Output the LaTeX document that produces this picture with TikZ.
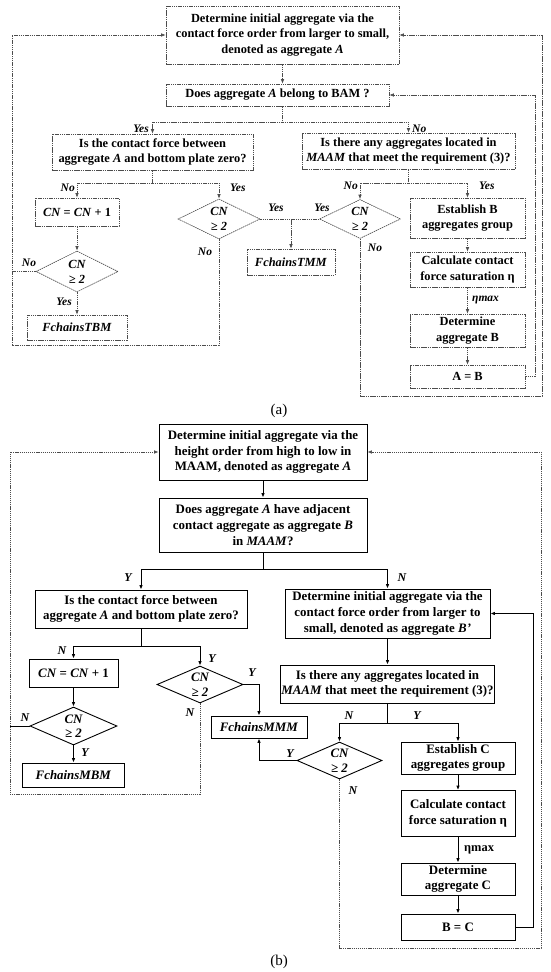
\documentclass[tikz,border=0pt]{standalone}
\usepackage{fontspec}
\setmainfont{Liberation Serif}
\usetikzlibrary{arrows.meta,shapes.geometric}
\tikzset{
  fa/.style={font=\fontsize{12.4}{15.2}\selectfont\bfseries},
  fb/.style={font=\fontsize{12.9}{15.7}\selectfont\bfseries},
  la/.style={draw=black!70, dash pattern=on 1.5pt off 0.7pt, line width=0.65pt},
  lb/.style={draw=black, line width=0.9pt},
  lbd/.style={draw=black!70, dash pattern=on 1.2pt off 0.9pt, line width=0.7pt},
  boxa/.style={la, fa, rectangle, align=center, inner sep=1pt},
  boxb/.style={lb, fb, rectangle, align=center, inner sep=1pt},
  diaa/.style={la, font=\fontsize{12.4}{15}\selectfont\bfseries\itshape, diamond, aspect=2, inner sep=0pt, align=center},
  diab/.style={lb, font=\fontsize{12.9}{14.5}\selectfont\bfseries\itshape, diamond, aspect=2, inner sep=0pt, align=center},
  arr/.style={-{Latex[length=4.5pt,width=3.6pt]}},
  laba/.style={font=\fontsize{11.5}{13}\selectfont\bfseries\itshape, inner sep=0pt},
  labb/.style={font=\fontsize{12}{13}\selectfont\bfseries\itshape, inner sep=0pt},
  capt/.style={font=\fontsize{15}{18}\selectfont, inner sep=0pt},
}
\begin{document}
\begin{tikzpicture}[x=1pt,y=-1pt]
\useasboundingbox (0,0) rectangle (550,972);

% ================= (a) =================
\node[boxa, minimum width=233pt, minimum height=58pt] (a1) at (282.5,35)
  {Determine initial aggregate via the\\contact force order from larger to small,\\denoted as aggregate \textit{A}};
\node[boxa, minimum width=223pt, minimum height=22pt] (a2) at (277.5,95)
  {Does aggregate \textit{A} belong to BAM ?};
\node[boxa, minimum width=201pt, minimum height=36pt] (a3) at (152.5,152)
  {Is the contact force between\\aggregate \textit{A} and bottom plate zero?};
\node[boxa, minimum width=213pt, minimum height=36pt] (a4) at (408.5,151)
  {Is there any aggregates located in\\\textit{MAAM} that meet the requirement (3)?};
\node[boxa, minimum width=84pt, minimum height=28pt] (a5) at (77,212)
  {\textit{CN} = \textit{CN} + 1};
\node[diaa, minimum width=82pt, minimum height=40pt] (d1) at (219,219) {CN\\≥ 2};
\node[diaa, minimum width=82pt, minimum height=41pt] (d2) at (77,271.5) {CN\\≥ 2};
\node[diaa, minimum width=81pt, minimum height=39pt] (d3) at (360,219) {CN\\≥ 2};
\node[boxa, minimum width=100pt, minimum height=25pt] (ftbm) at (77,327.5) {\textit{FchainsTBM}};
\node[boxa, minimum width=88pt, minimum height=26pt] (ftmm) at (291,262) {\textit{FchainsTMM}};
\node[boxa, minimum width=115pt, minimum height=40pt] (b1) at (467.5,218) {Establish B\\aggregates group};
\node[boxa, minimum width=115pt, minimum height=35pt] (b2) at (467.5,269.5) {Calculate contact\\force saturation η};
\node[boxa, minimum width=115pt, minimum height=33pt] (b3) at (467.5,330.5) {Determine\\aggregate B};
\node[boxa, minimum width=115pt, minimum height=23pt] (ab) at (467.5,376.5) {A = B};

\draw[la,arr] (a1.south) -- (a1.south |- a2.north);
\coordinate (ja) at (a1.south |- 0,122);
\draw[la] (a1.south |- a2.south) -- (ja);
\draw[la,arr] (ja) -| (a3.north);
\draw[la,arr] (ja) -| (a4.north);

\coordinate (jb) at (a3.south |- 0,183);
\draw[la] (a3.south) -- (jb);
\draw[la,arr] (jb) -| (a5.north);
\draw[la,arr] (jb) -| (d1.north);

\coordinate (jc) at (a4.south |- 0,183);
\draw[la] (a4.south) -- (jc);
\draw[la,arr] (jc) -| (d3.north);
\draw[la,arr] (jc) -| (b1.north);

\draw[la,arr] (a5.south) -- (d2.north);
\draw[la,arr] (d2.south) -- (ftbm.north);
\draw[la] (d1.east) -- (d3.west);
\coordinate (jd) at (ftmm.north |- d1.east);
\draw[la,arr] (jd) -- (ftmm.north);
\draw[la,arr] (b1.south) -- (b2.north);
\draw[la,arr] (b2.south) -- (b3.north);
\draw[la,arr] (b3.south) -- (ab.north);

\coordinate (la1) at (12,345);
\draw[la,arr] (d1.south) |- (la1) |- (a1.west);
\draw[la] (d2.west) -- (d2.west -| la1);
\coordinate (ra1) at (542,396);
\draw[la,arr] (d3.south) |- (ra1) |- (a1.east);
\coordinate (ra2) at (535,0);
\draw[la,arr] (ab.east) -- (ab.east -| ra2) |- (a2.east);

\node[laba, anchor=east] (ya) at (149,129) {Yes};
\node[laba, anchor=west] (na) at (412,129) {No};
\node[laba, anchor=east] (n1) at (75,188) {No};
\node[laba, anchor=west] (y1) at (230,188) {Yes};
\node[laba, anchor=east] (n2) at (358,186) {No};
\node[laba, anchor=west] (y2) at (479,186) {Yes};
\node[laba] (n3) at (29,263) {No};
\node[laba, anchor=east] (y3) at (72,302) {Yes};
\node[laba] (n4) at (205,252) {No};
\node[laba] (y4) at (276,208) {Yes};
\node[laba] (y5) at (322,208) {Yes};
\node[laba] (n5) at (375,248) {No};
\node[laba, anchor=west] (eta1) at (472,300) {ηmax};

\node[capt] (capa) at (279,411) {(a)};

% ================= (b) =================
\node[boxb, minimum width=208pt, minimum height=56pt] (ba1) at (263,452)
  {Determine initial aggregate via the\\height order from high to low in\\MAAM, denoted as aggregate \textit{A}};
\node[boxb, minimum width=208pt, minimum height=54pt] (ba2) at (263,525)
  {Does aggregate \textit{A} have adjacent\\contact aggregate as aggregate \textit{B}\\in \textit{MAAM}?};
\node[boxb, minimum width=212pt, minimum height=38pt] (bl1) at (141,609)
  {Is the contact force between\\aggregate \textit{A} and bottom plate zero?};
\node[boxb, minimum width=89pt, minimum height=28pt] (cnb) at (73.5,673)
  {\textit{CN} = \textit{CN} + 1};
\node[diab, minimum width=86pt, minimum height=37pt] (e1) at (200,684.5) {CN\\≥ 2};
\node[diab, minimum width=87pt, minimum height=38pt] (e2) at (73.5,726) {CN\\≥ 2};
\node[diab, minimum width=85pt, minimum height=37pt] (e3) at (339.5,760.5) {CN\\≥ 2};
\node[boxb, minimum width=102pt, minimum height=24pt] (fmbm) at (73.5,775) {\textit{FchainsMBM}};
\node[boxb, minimum width=96pt, minimum height=22pt] (fmmm) at (259,727) {\textit{FchainsMMM}};
\node[boxb, minimum width=205pt, minimum height=49pt] (br1) at (387.5,613.5)
  {Determine initial aggregate via the\\contact force order from larger to\\small, denoted as aggregate \textit{B’}};
\node[boxb, minimum width=204pt, minimum height=38pt] (br2) at (387.5,684)
  {Is there any aggregates located in\\\textit{MAAM} that meet the requirement (3)?};
\node[boxb, minimum width=114pt, minimum height=32pt] (c1) at (458,758) {Establish C\\aggregates group};
\node[boxb, minimum width=114pt, minimum height=46pt] (c2) at (458,813.5) {Calculate contact\\force saturation η};
\node[boxb, minimum width=114pt, minimum height=32pt] (c3) at (458,879) {Determine\\aggregate C};
\node[boxb, minimum width=114pt, minimum height=26pt] (bc) at (458,927) {B = C};

\draw[lb,arr] (ba1.south) -- (ba2.north);
\coordinate (ka) at (ba2.south |- 0,569);
\draw[lb] (ba2.south) -- (ka);
\draw[lb,arr] (ka) -| (bl1.north);
\draw[lb,arr] (ka) -| (br1.north);

\coordinate (kb) at (bl1.south |- 0,646);
\draw[lb] (bl1.south) -- (kb);
\draw[lb,arr] (kb) -| (cnb.north);
\draw[lb,arr] (kb) -| (e1.north);
\draw[lb,arr] (cnb.south) -- (e2.north);
\draw[lb,arr] (e2.south) -- (fmbm.north);
\draw[lb,arr] (e1.east) -| (fmmm.north);
\draw[lb,arr] (e3.west) -| (fmmm.south);

\draw[lb,arr] (br1.south) -- (br2.north);
\coordinate (kc) at (br2.south |- 0,723);
\draw[lb] (br2.south) -- (kc);
\draw[lb,arr] (kc) -| (e3.north);
\draw[lb,arr] (kc) -| (c1.north);
\draw[lb,arr] (c1.south) -- (c2.north);
\draw[lb,arr] (c2.south) -- (c3.north);
\draw[lb,arr] (c3.south) -- (bc.north);

\coordinate (lb1) at (10,794);
\draw[lbd,arr] (e1.south) |- (lb1) |- (ba1.west);
\draw[lb] (e2.west) -- (e2.west -| lb1);
\coordinate (rb1) at (541,948);
\draw[lbd,arr] (e3.south) |- (rb1) |- (ba1.east);
\coordinate (rb2) at (533,0);
\draw[lb,arr] (bc.east) -- (bc.east -| rb2) |- (br1.east);

\node[labb] (yb) at (128,578) {Y};
\node[labb] (nb) at (402,578) {N};
\node[labb] (nb1) at (62,651) {N};
\node[labb] (yb1) at (212,659) {Y};
\node[labb] (nb2) at (25,718) {N};
\node[labb] (yb2) at (85,753) {Y};
\node[labb] (nb3) at (190,713) {N};
\node[labb] (yb3) at (252,673) {Y};
\node[labb] (yb4) at (290,754) {Y};
\node[labb] (nb4) at (353,791) {N};
\node[labb] (nb5) at (349,716) {N};
\node[labb] (yb5) at (417,716) {Y};
\node[font=\fontsize{12.4}{14}\selectfont\bfseries, inner sep=0pt, anchor=west] (eta2) at (464,850) {ηmax};

\node[capt] (capb) at (279,962) {(b)};
\end{tikzpicture}
\end{document}
